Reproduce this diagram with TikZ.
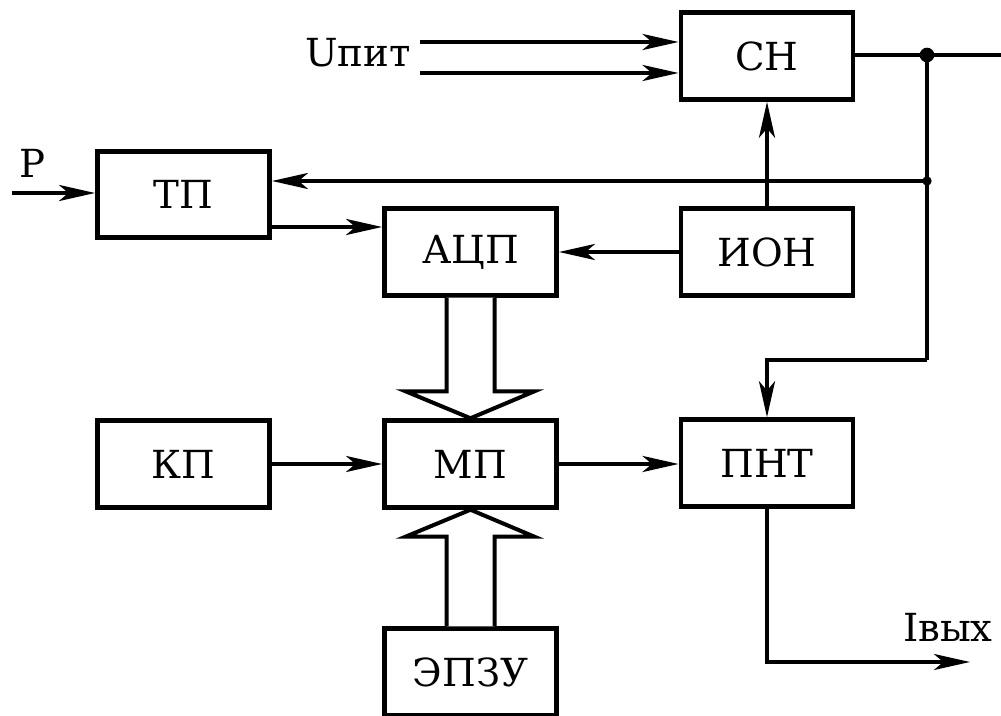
\documentclass[tikz,border=0pt]{standalone}
\usepackage{fontspec}
\setmainfont{DejaVu Serif}
\newfontfamily\blkfont{DejaVu Serif}
\usetikzlibrary{arrows.meta,calc}
\begin{document}
\begin{tikzpicture}[x=0.75pt,y=-0.75pt,
  blk/.style={draw, line width=3.6pt, minimum width=129pt, minimum height=65pt, inner sep=0pt, font=\blkfont\fontsize{29}{36}\selectfont},
  lbl/.style={inner sep=0pt, font=\blkfont\fontsize{29}{36}\selectfont},
  conn/.style={line width=3pt, -{Stealth[length=27pt,width=12pt,inset=7pt]}},
  wire/.style={line width=3pt},
  bus/.style={line width=3pt, fill=white, line join=miter},
  dot/.style={circle, fill=black, inner sep=0pt}]
\useasboundingbox (0,0) rectangle (1001,716);
% blocks
\node[blk] (sn)   at (767,56)    {СН};
\node[blk] (tp)   at (183.5,194.5) {ТП};
\node[blk] (adc)  at (470.5,252) {АЦП};
\node[blk] (ion)  at (767,252)   {ИОН};
\node[blk] (kp)   at (183.5,464) {КП};
\node[blk] (mp)   at (470.5,464) {МП};
\node[blk] (pnt)  at (767,463)   {ПНТ};
\node[blk] (epzu) at (470.5,672) {ЭПЗУ};
% labels
\node[lbl, anchor=east] (upit) at (411,53) {Uпит};
\node[lbl] (plbl) at (33,163) {P};
\node[lbl, anchor=east] (iout) at (993,627) {Iвых};
% coordinates
\coordinate (u1) at (420,42);
\coordinate (u2) at (420,73);
\coordinate (pin) at (12,193);
\coordinate (j1) at (927,55);
\coordinate (j2) at (927,181);
\coordinate (j3) at (927,360);
\coordinate (outr) at (1001,55);
\coordinate (iend) at (970,662);
\coordinate (tpo) at (270,227);
% supply inputs
\draw[conn] (u1) -- (u1 -| sn.west);
\draw[conn] (u2) -- (u2 -| sn.west);
% output of СН
\draw[wire] (sn.east |- j1) -- (outr);
\draw[wire] (j1) -- (j3);
\draw[conn] (j3) -| (pnt.north);
\draw[conn] (j2) -- (j2 -| tp.east);
\node[dot, minimum size=11pt] at (j1) {};
\node[dot, minimum size=7pt] at (j2) {};
% P input
\draw[conn] (pin) -- (pin -| tp.west);
% ТП -> АЦП
\draw[conn] (tpo) -- (tpo -| adc.west);
% ИОН -> АЦП, ИОН -> СН
\draw[conn] (ion.west) -- (adc.east);
\draw[conn] (ion.north) -- (sn.south);
% КП -> МП, МП -> ПНТ
\draw[conn] (kp.east) -- (mp.west);
\draw[conn] (mp.east) -- (mp.east -| pnt.west);
% ПНТ -> output
\draw[conn] (pnt.south) |- (iend);
% bus АЦП -> МП
\draw[bus] ($(adc.south)+(-24,0)$) -- ($(mp.north)+(-24,-27)$) -- ($(mp.north)+(-65,-27)$)
  -- (mp.north) -- ($(mp.north)+(64,-27)$) -- ($(mp.north)+(24,-27)$) -- ($(adc.south)+(24,0)$);
% bus ЭПЗУ -> МП
\draw[bus] ($(epzu.north)+(-24,0)$) -- ($(mp.south)+(-24,27)$) -- ($(mp.south)+(-65,27)$)
  -- (mp.south) -- ($(mp.south)+(64,27)$) -- ($(mp.south)+(24,27)$) -- ($(epzu.north)+(24,0)$);
\end{tikzpicture}
\end{document}
